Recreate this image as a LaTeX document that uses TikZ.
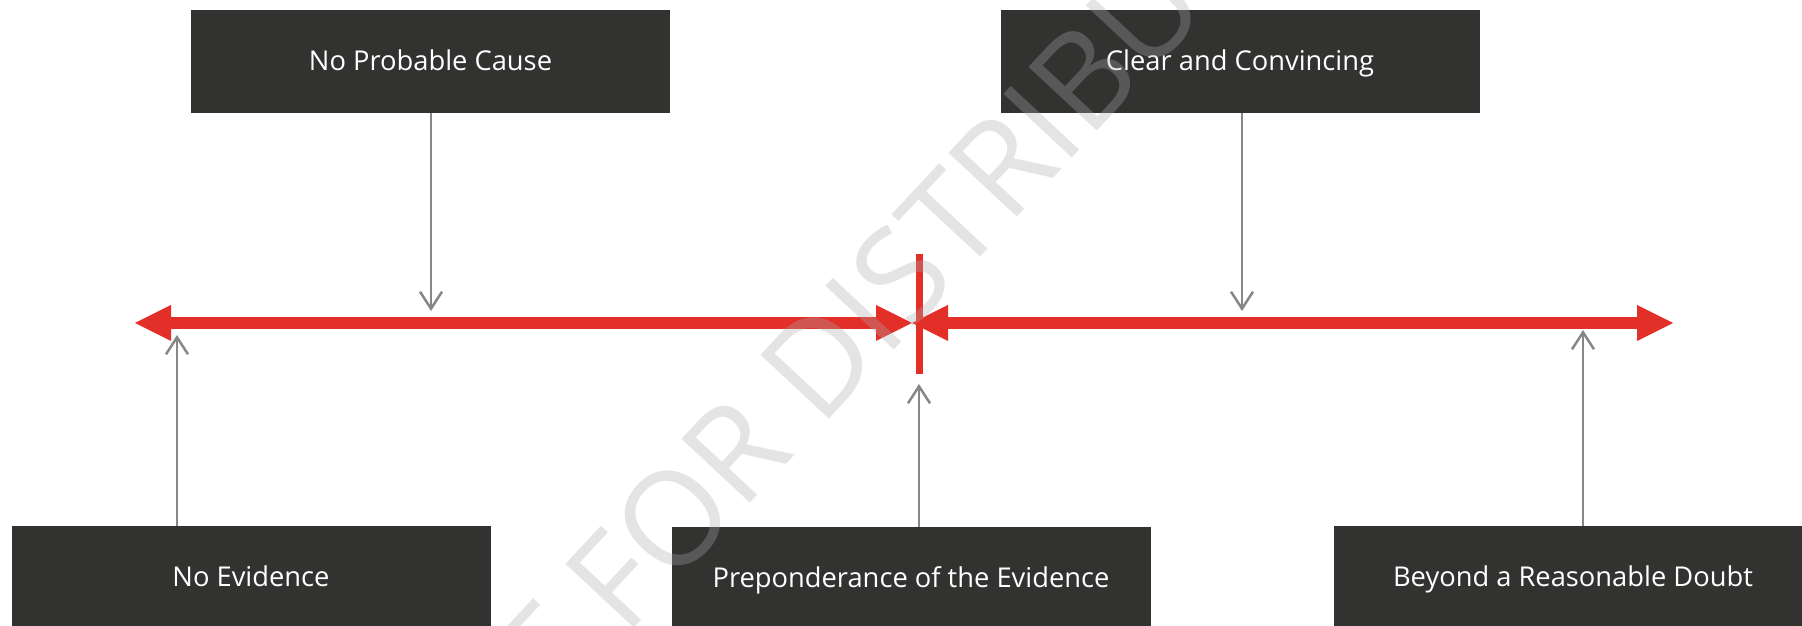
\documentclass[tikz,border=0pt]{standalone}
\usepackage{fontspec}
\setmainfont{Open Sans}
\usetikzlibrary{arrows.meta}
\definecolor{boxc}{HTML}{323231}
\definecolor{redc}{HTML}{E22F28}
\definecolor{grayc}{HTML}{878787}
\definecolor{wmc}{HTML}{ABABAB}
\begin{document}
\begin{tikzpicture}[x=1pt,y=1pt,
  lbl/.style={fill=boxc, text=white, minimum width=479pt, minimum height=103pt, inner sep=0pt, text height=24pt, text depth=5.6pt, font=\fontsize{27.3}{32}\selectfont},
  redarrow/.style={draw=redc, line width=12.5pt, {Triangle[length=36pt,width=36pt,line width=0pt]}-{Triangle[length=36pt,width=36pt,line width=0pt]}},
  redbar/.style={draw=redc, line width=6.7pt},
  gar/.style={draw=grayc, line width=2.5pt, -{Straight Barb[length=17pt,width=22pt]}},
  wm/.style={text=wmc, text opacity=0.32, font=\fontsize{131}{131}\selectfont, inner sep=0pt}]
\useasboundingbox (0,0) rectangle (1802,626);
\clip (0,0) rectangle (1802,626);
% boxes
\node[lbl] (npc) at (430.5,564.5) {No Probable Cause};
\node[lbl] (cc)  at (1240,564.5) {Clear and Convincing};
\node[lbl] (ne)  at (251,48.5) {No Evidence};
\node[lbl] (pe)  at (911,47.5) {Preponderance of the Evidence};
\node[lbl] (brd) at (1573,48.5) {Beyond a Reasonable Doubt};
% scale line
\coordinate (lend) at (135,303);
\coordinate (mid)  at (912,303);
\coordinate (rend) at (1673,303);
\coordinate (bartop) at (919.3,372);
\coordinate (barbot) at (919.3,252);
\draw[redarrow] (lend) -- (mid);
\draw[redarrow] (mid) -- (rend);
\draw[redbar] (barbot) -- (bartop);
% pointers
\coordinate (t1) at (431,315);
\coordinate (t2) at (1242,315);
\coordinate (t3) at (177,291);
\coordinate (t4) at (919,242);
\coordinate (t5) at (1583,296);
\draw[gar] (npc.south -| t1) -- (t1);
\draw[gar] (cc.south -| t2) -- (t2);
\draw[gar] (ne.north -| t3) -- (t3);
\draw[gar] (pe.north -| t4) -- (t4);
\draw[gar] (brd.north -| t5) -- (t5);
% watermark
\node[wm, rotate=47, anchor=base west] (mark) at (419,-233) {NOT FOR DISTRIBUTION};
\end{tikzpicture}
\end{document}
